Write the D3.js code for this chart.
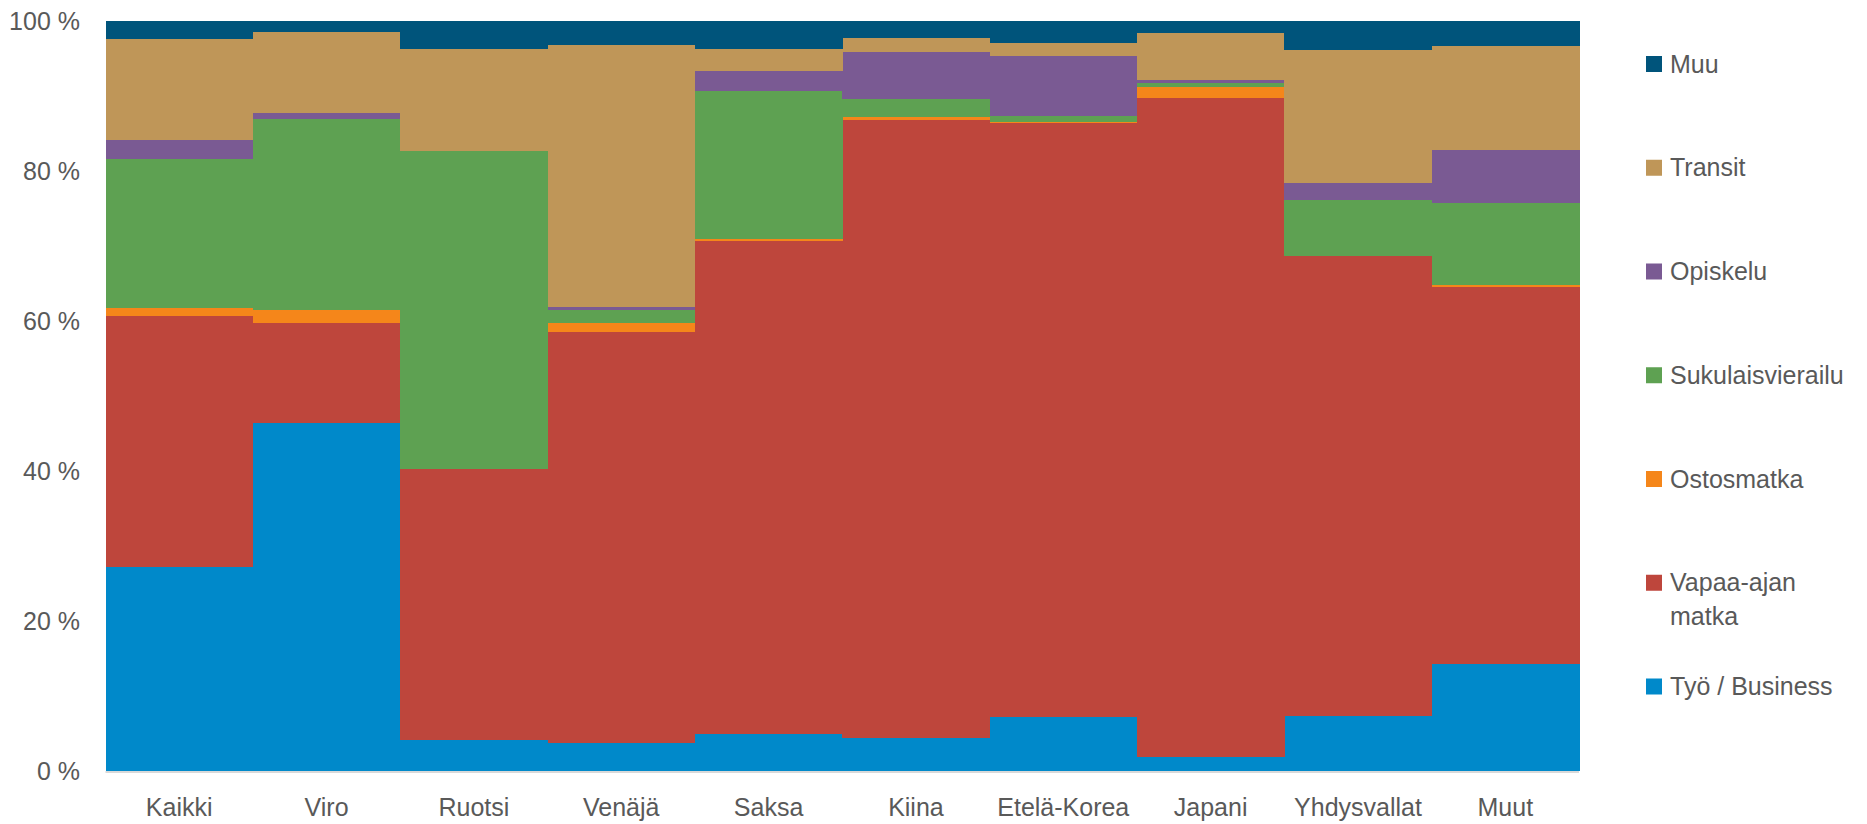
<!DOCTYPE html>
<html>
<head>
<meta charset="utf-8">
<script src="https://cdn.jsdelivr.net/npm/d3@7"></script>
<style>
  body { margin: 0; background: #fff; }
  text { font-family: "Liberation Sans", Arial, sans-serif; fill: #595959; }
</style>
</head>
<body>
<div id="container"></div>
<script>
const width = 1867;
const height = 824;

const categories = ["Kaikki", "Viro", "Ruotsi", "Venäjä", "Saksa", "Kiina", "Etelä-Korea", "Japani", "Yhdysvallat", "Muut"];
const tyo = [27.2, 46.4, 4.2, 3.8, 5.0, 4.4, 7.2, 1.8, 7.3, 14.2];
const vapaa = [33.5, 13.3, 36.1, 54.7, 65.8, 82.4, 79.2, 87.8, 61.4, 50.3];
const ostos = [1.0, 1.7, 0, 1.2, 0.2, 0.4, 0.1, 1.5, 0, 0.3];
const suku = [19.9, 25.4, 42.4, 1.8, 19.8, 2.4, 0.9, 0.5, 7.5, 10.8];
const opiskelu = [2.6, 0.8, 0, 0.4, 2.6, 6.3, 8.0, 0.4, 2.2, 7.1];
const transit = [13.4, 10.9, 13.6, 34.9, 2.9, 1.8, 1.7, 6.3, 17.7, 13.9];
const muu = [2.4, 1.4, 3.7, 3.2, 3.8, 2.3, 2.9, 1.6, 3.9, 3.3];

const yTicks = [0, 20, 40, 60, 80, 100];

// bottom to top
const series = [
  { key: "tyo", label: ["Työ / Business"], values: tyo, color: "#0089ca" },
  { key: "vapaa", label: ["Vapaa-ajan", "matka"], values: vapaa, color: "#be463c" },
  { key: "ostos", label: ["Ostosmatka"], values: ostos, color: "#f5861a" },
  { key: "suku", label: ["Sukulaisvierailu"], values: suku, color: "#5ea152" },
  { key: "opiskelu", label: ["Opiskelu"], values: opiskelu, color: "#7a5a93" },
  { key: "transit", label: ["Transit"], values: transit, color: "#bf9658" },
  { key: "muu", label: ["Muu"], values: muu, color: "#00547b" }
];

const rows = categories.map((c, i) => {
  const r = { cat: c };
  series.forEach(s => { r[s.key] = s.values[i]; });
  return r;
});

const stacked = d3.stack()
  .keys(series.map(s => s.key))
  .offset(d3.stackOffsetExpand)(rows);

const plot = { left: 105.5, right: 1579, top: 21, bottom: 771 };

const x = d3.scaleBand()
  .domain(categories)
  .range([plot.left, plot.right])
  .padding(0);

const y = d3.scaleLinear()
  .domain([0, 1])
  .range([plot.bottom, plot.top]);

const svg = d3.select("#container")
  .append("svg")
  .attr("width", width)
  .attr("height", height);

svg.append("g")
  .attr("shape-rendering", "crispEdges")
  .selectAll("g")
  .data(stacked)
  .join("g")
  .attr("fill", (d, i) => series[i].color)
  .selectAll("rect")
  .data(d => d)
  .join("rect")
  .attr("x", d => x(d.data.cat))
  .attr("width", x.bandwidth() + 0.5)
  .attr("y", d => y(d[1]))
  .attr("height", d => Math.max(0, y(d[0]) - y(d[1])));

// baseline
svg.append("line")
  .attr("x1", plot.left)
  .attr("x2", plot.right)
  .attr("y1", plot.bottom + 1)
  .attr("y2", plot.bottom + 1)
  .attr("stroke", "#d9d9d9")
  .attr("stroke-width", 2);

// y axis labels
const yAxis = d3.axisLeft(y)
  .tickValues(yTicks.map(t => t / 100))
  .tickFormat(d => `${Math.round(d * 100)} %`)
  .tickSize(0)
  .tickPadding(0);

const gy = svg.append("g")
  .attr("transform", "translate(80,0)")
  .call(yAxis);
gy.select(".domain").remove();
gy.selectAll("text")
  .attr("font-size", 25)
  .attr("font-family", null)
  .attr("fill", "#595959");

// x axis labels
const xAxis = d3.axisBottom(x).tickSize(0).tickPadding(0);
const gx = svg.append("g")
  .attr("transform", `translate(0,${plot.bottom})`)
  .call(xAxis);
gx.select(".domain").remove();
gx.selectAll("text")
  .attr("dy", null)
  .attr("y", 45)
  .attr("font-size", 25)
  .attr("font-family", null)
  .attr("fill", "#595959");

// legend, top to bottom
const legendItems = series.slice().reverse();
const legendY = d3.scaleLinear().domain([0, legendItems.length - 1]).range([64, 686.5]);

const legend = svg.append("g")
  .selectAll("g")
  .data(legendItems)
  .join("g")
  .attr("transform", (d, i) => `translate(1646,${legendY(i)})`);

legend.append("rect")
  .attr("x", 0)
  .attr("y", -8)
  .attr("width", 16)
  .attr("height", 16)
  .attr("fill", d => d.color);

legend.append("text")
  .attr("x", 24)
  .attr("y", 8.5)
  .attr("font-size", 25)
  .selectAll("tspan")
  .data(d => d.label)
  .join("tspan")
  .attr("x", 24)
  .attr("dy", (d, i) => i === 0 ? 0 : 33.5)
  .text(d => d);
</script>
</body>
</html>
